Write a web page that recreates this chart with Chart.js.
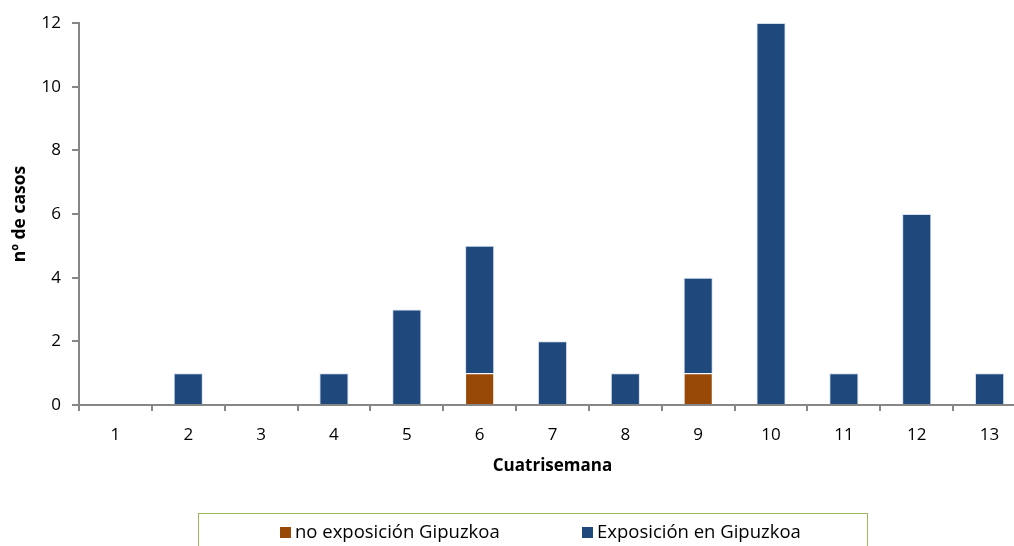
<!DOCTYPE html>
<html>
<head>
<meta charset="utf-8">
<script src="https://cdn.jsdelivr.net/npm/chart.js@4"></script>
<style>
  html, body { margin: 0; padding: 0; background: #fff; overflow: hidden; width: 1014px; height: 546px; }
  #wrap { position: relative; width: 1014px; height: 546px; overflow: hidden; }
  canvas { position: absolute; left: 0; top: 0; }
  #legend {
    position: absolute; left: 198px; top: 513px; width: 670px; height: 60px;
    border: 1.5px solid #9BBB59; box-sizing: border-box;
    font-family: "Open Sans", sans-serif; font-size: 18.5px; color: #000;
  }
  .item { position: absolute; top: 5px; white-space: nowrap; line-height: 24px; }
  .sw { display: inline-block; width: 11px; height: 11px; margin-right: 4px; vertical-align: 0px; }
</style>
</head>
<body>
<div id="wrap">
  <canvas id="c" width="1040" height="546"></canvas>
  <div id="legend"></div>
</div>
<script>
// Four-week periods and cases per period
const categories = ['1','2','3','4','5','6','7','8','9','10','11','12','13'];
const noExposicion = [0,0,0,0,0,1,0,0,1,0,0,0,0];
const exposicion   = [0,1,0,1,3,4,2,1,3,12,1,6,1];
const seriesNames  = ['no exposición Gipuzkoa', 'Exposición en Gipuzkoa'];
const seriesColors = ['#984807', '#1F497D'];
const yTicks = [0,2,4,6,8,10,12];

const axisColor = '#868686';
const font = { family: '"Open Sans", sans-serif' };

new Chart(document.getElementById('c'), {
  type: 'bar',
  data: {
    labels: categories,
    datasets: [
      { label: seriesNames[0], data: noExposicion, backgroundColor: seriesColors[0],
        borderColor: 'rgba(255,255,255,0.5)', borderWidth: 1, borderSkipped: 'bottom' },
      { label: seriesNames[1], data: exposicion, backgroundColor: seriesColors[1],
        borderColor: 'rgba(200,215,235,0.8)', borderWidth: 1, borderSkipped: 'bottom' }
    ]
  },
  options: {
    responsive: false,
    animation: false,
    layout: { padding: { top: 23, right: 14, bottom: 70, left: 0 } },
    plugins: { legend: { display: false }, tooltip: { enabled: false } },
    datasets: { bar: { barPercentage: 0.4, categoryPercentage: 1.0 } },
    scales: {
      x: {
        stacked: true,
        grid: { display: true, offset: true, drawOnChartArea: false, drawTicks: true,
                tickLength: 6, color: axisColor, lineWidth: 2 },
        border: { display: true, color: axisColor, width: 2 },
        ticks: { color: '#000', font: { ...font, size: 17 }, padding: 14, maxRotation: 0 },
        title: { display: true, text: 'Cuatrisemana', color: '#000',
                 font: { ...font, size: 17, weight: 'bold' }, padding: { top: 4, bottom: 0 } },
        afterFit: s => { s.height = 71; }
      },
      y: {
        stacked: true,
        min: 0, max: 12,
        afterBuildTicks: s => { s.ticks = yTicks.map(v => ({ value: v })); },
        grid: { display: true, drawOnChartArea: false, drawTicks: true,
                tickLength: 7, color: axisColor, lineWidth: 2 },
        border: { display: true, color: axisColor, width: 2 },
        ticks: { color: '#000', font: { ...font, size: 17 }, padding: 11 },
        title: { display: true, text: 'nº de casos', color: '#000',
                 font: { ...font, size: 17.5, weight: 'bold' }, padding: { top: 10, bottom: 0 } },
        afterFit: s => { s.width = 79; }
      }
    }
  }
});

// Legend box below the plot
const legend = document.getElementById('legend');
const legendX = [81, 383];
seriesNames.forEach((name, i) => {
  const it = document.createElement('div');
  it.className = 'item';
  it.style.left = legendX[i] + 'px';
  const sw = document.createElement('span');
  sw.className = 'sw';
  sw.style.background = seriesColors[i];
  it.appendChild(sw);
  it.appendChild(document.createTextNode(name));
  legend.appendChild(it);
});
</script>
</body>
</html>
